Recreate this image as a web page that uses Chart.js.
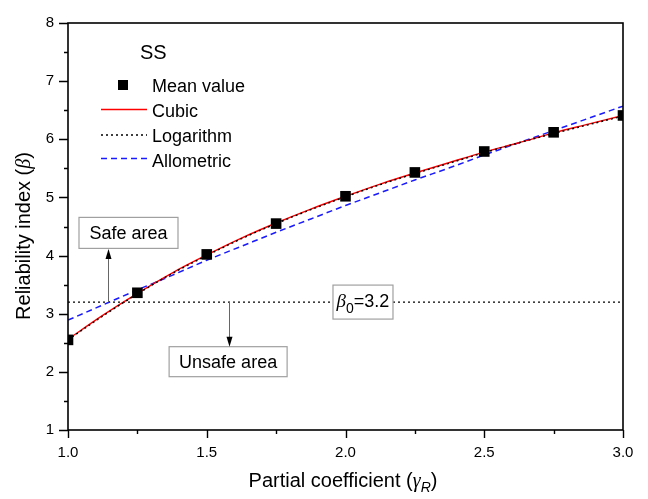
<!DOCTYPE html>
<html>
<head>
<meta charset="utf-8">
<script src="https://cdn.jsdelivr.net/npm/chart.js@4.4.0/dist/chart.umd.min.js"></script>
<style>
  html, body { margin: 0; padding: 0; background: #fff; }
  #wrap { width: 648px; height: 499px; }
</style>
</head>
<body>
<div id="wrap"><canvas id="chart" width="648" height="499"></canvas></div>
<script>
// data
const gammaR = [1.0, 1.25, 1.5, 1.75, 2.0, 2.25, 2.5, 2.75, 3.0];
const meanBeta = [2.55, 3.36, 4.02, 4.55, 5.02, 5.43, 5.79, 6.12, 6.41];

const fitX = [1.0, 1.125, 1.25, 1.375, 1.5, 1.625, 1.75, 1.875, 2.0, 2.125, 2.25, 2.375, 2.5, 2.625, 2.75, 2.875, 3.0];
const cubicBeta = [2.56, 2.97, 3.35, 3.70, 4.01, 4.30, 4.56, 4.80, 5.02, 5.23, 5.42, 5.60, 5.78, 5.94, 6.11, 6.26, 6.41];
const logBeta = [2.55, 2.96, 3.34, 3.69, 4.00, 4.29, 4.55, 4.79, 5.01, 5.22, 5.41, 5.59, 5.77, 5.94, 6.10, 6.25, 6.40];
const alloBeta = [2.89, 3.15, 3.41, 3.66, 3.92, 4.16, 4.40, 4.63, 4.86, 5.08, 5.30, 5.51, 5.73, 5.94, 6.15, 6.36, 6.57];

const targetX = [1.0, 3.0];
const targetBeta = [3.2, 3.2];

const xLabels = ["1.0", "1.5", "2.0", "2.5", "3.0"];
const yLabels = ["1", "2", "3", "4", "5", "6", "7", "8"];

const FONT = '"Liberation Sans", Arial, sans-serif';
const GREEK = '"Liberation Serif", "Times New Roman", serif';

function pts(xs, ys) {
    return xs.map(function (x, i) { return { x: x, y: ys[i] }; });
}

// text made of pieces: [text, font, dy]
function drawRuns(ctx, runs, x, y, align) {
    let total = 0;
    runs.forEach(function (r) { ctx.font = r[1]; total += ctx.measureText(r[0]).width; });
    let cx = align === "center" ? x - total / 2 : x;
    runs.forEach(function (r) {
        ctx.font = r[1];
        ctx.fillText(r[0], cx, y + (r[2] || 0));
        cx += ctx.measureText(r[0]).width;
    });
}

function box(ctx, cx, cy, w, h) {
    ctx.fillStyle = "#fff";
    ctx.fillRect(cx - w / 2, cy - h / 2, w, h);
    ctx.strokeStyle = "#a0a0a0";
    ctx.lineWidth = 1.2;
    ctx.strokeRect(cx - w / 2, cy - h / 2, w, h);
}

function arrow(ctx, x, y0, y1) {
    const dir = y1 > y0 ? 1 : -1;
    ctx.strokeStyle = "#666";
    ctx.lineWidth = 1;
    ctx.beginPath();
    ctx.moveTo(x, y0);
    ctx.lineTo(x, y1 - dir * 8);
    ctx.stroke();
    ctx.fillStyle = "#000";
    ctx.beginPath();
    ctx.moveTo(x, y1);
    ctx.lineTo(x - 3, y1 - dir * 10);
    ctx.lineTo(x + 3, y1 - dir * 10);
    ctx.closePath();
    ctx.fill();
}

const decor = {
    id: "decor",
    afterDraw: function (chart) {
        const ctx = chart.ctx;
        const a = chart.chartArea;
        const xs = chart.scales.x;
        const ys = chart.scales.y;
        ctx.save();

        // frame
        ctx.strokeStyle = "#000";
        ctx.lineWidth = 1.6;
        ctx.strokeRect(a.left, a.top, a.right - a.left, a.bottom - a.top);

        // ticks, major and minor
        ctx.lineWidth = 1.4;
        ctx.beginPath();
        for (let v = 1; v <= 3.0001; v += 0.25) {
            const px = Math.round(xs.getPixelForValue(v)) + 0.5;
            const major = Math.abs(v * 2 - Math.round(v * 2)) < 1e-6;
            ctx.moveTo(px, a.bottom);
            ctx.lineTo(px, a.bottom + (major ? 8 : 4));
        }
        for (let v = 1; v <= 8.0001; v += 0.5) {
            const py = Math.round(ys.getPixelForValue(v)) + 0.5;
            const major = Math.abs(v - Math.round(v)) < 1e-6;
            ctx.moveTo(a.left, py);
            ctx.lineTo(a.left - (major ? 9 : 4), py);
        }
        ctx.stroke();

        // axis titles
        ctx.fillStyle = "#000";
        ctx.textBaseline = "alphabetic";
        ctx.textAlign = "left";
        drawRuns(ctx, [
            ["Partial coefficient (", "20px " + FONT],
            ["\u03b3", "italic 20px " + GREEK],
            ["R", "italic 14px " + FONT, 5],
            [")", "20px " + FONT]
        ], 343, 487, "center");

        ctx.save();
        ctx.translate(30, 236);
        ctx.rotate(-Math.PI / 2);
        drawRuns(ctx, [
            ["Reliability index (", "20px " + FONT],
            ["\u03b2", "italic 20px " + GREEK],
            [")", "20px " + FONT]
        ], 0, 0, "center");
        ctx.restore();

        // legend
        ctx.font = "20px " + FONT;
        ctx.fillText("SS", 140, 59);
        ctx.font = "18px " + FONT;
        ctx.fillRect(118, 80, 10, 10);
        ctx.fillText("Mean value", 152, 91.5);
        ctx.fillText("Cubic", 152, 117);
        ctx.fillText("Logarithm", 152, 141.5);
        ctx.fillText("Allometric", 152, 166.5);
        ctx.lineWidth = 1.5;
        ctx.strokeStyle = "#ff0000";
        ctx.beginPath(); ctx.moveTo(101, 109.5); ctx.lineTo(147, 109.5); ctx.stroke();
        ctx.strokeStyle = "#000";
        ctx.setLineDash([2, 3]);
        ctx.beginPath(); ctx.moveTo(101, 135); ctx.lineTo(147, 135); ctx.stroke();
        ctx.strokeStyle = "#1a1aff";
        ctx.setLineDash([6, 4]);
        ctx.beginPath(); ctx.moveTo(101, 158.5); ctx.lineTo(147, 158.5); ctx.stroke();
        ctx.setLineDash([]);

        // annotations
        const yLine = ys.getPixelForValue(targetBeta[0]);
        box(ctx, xs.getPixelForValue(1.218), ys.getPixelForValue(4.39), 99, 31);
        box(ctx, xs.getPixelForValue(1.577), ys.getPixelForValue(2.175), 118, 30);
        box(ctx, xs.getPixelForValue(2.063), yLine, 60, 34);
        arrow(ctx, Math.round(xs.getPixelForValue(1.144)) + 0.5, yLine, ys.getPixelForValue(4.39) + 16);
        arrow(ctx, Math.round(xs.getPixelForValue(1.58)) + 0.5, yLine, ys.getPixelForValue(2.175) - 15);

        ctx.fillStyle = "#000";
        ctx.textAlign = "center";
        ctx.font = "18px " + FONT;
        ctx.fillText("Safe area", xs.getPixelForValue(1.218), ys.getPixelForValue(4.39) + 6.5);
        ctx.fillText("Unsafe area", xs.getPixelForValue(1.577), ys.getPixelForValue(2.175) + 6.5);
        ctx.textAlign = "left";
        drawRuns(ctx, [
            ["\u03b2", "italic 19px " + GREEK],
            ["0", "14px " + FONT, 6],
            ["=3.2", "18px " + FONT]
        ], xs.getPixelForValue(2.063), yLine + 5, "center");

        ctx.restore();
    }
};

const chart = new Chart(document.getElementById("chart"), {
    type: "line",
    data: {
        datasets: [
            {
                label: "Mean value",
                data: pts(gammaR, meanBeta),
                showLine: false,
                pointStyle: "rect",
                pointRadius: 7.5,
                pointBackgroundColor: "#000",
                pointBorderColor: "#000",
                pointBorderWidth: 0,
                order: 0
            },
            {
                label: "Logarithm",
                data: pts(fitX, logBeta),
                borderColor: "#000",
                borderWidth: 1.4,
                borderDash: [2, 3],
                pointRadius: 0,
                cubicInterpolationMode: "monotone",
                order: 1
            },
            {
                label: "Cubic",
                data: pts(fitX, cubicBeta),
                borderColor: "#ff0000",
                borderWidth: 1.4,
                pointRadius: 0,
                cubicInterpolationMode: "monotone",
                order: 2
            },
            {
                label: "Allometric",
                data: pts(fitX, alloBeta),
                borderColor: "#1a1aff",
                borderWidth: 1.5,
                borderDash: [6, 4],
                pointRadius: 0,
                cubicInterpolationMode: "monotone",
                order: 3
            },
            {
                label: "target",
                data: pts(targetX, targetBeta),
                borderColor: "#000",
                borderWidth: 1.4,
                borderDash: [2, 3],
                pointRadius: 0,
                order: 4
            }
        ]
    },
    options: {
        responsive: false,
        animation: false,
        events: [],
        layout: { padding: { top: 19, right: 25, left: 0, bottom: 0 } },
        plugins: { legend: { display: false }, tooltip: { enabled: false } },
        scales: {
            x: {
                type: "linear",
                min: 1,
                max: 3,
                grid: { display: false, drawTicks: false },
                border: { display: false },
                ticks: {
                    stepSize: 0.5,
                    padding: 14,
                    color: "#000",
                    font: { size: 15, family: FONT },
                    maxRotation: 0,
                    callback: function (v, i) { return xLabels[i]; }
                },
                afterFit: function (s) { s.height = 69; }
            },
            y: {
                type: "linear",
                min: 1,
                max: 8,
                grid: { display: false, drawTicks: false },
                border: { display: false },
                ticks: {
                    stepSize: 1,
                    padding: 14,
                    color: "#000",
                    font: { size: 15, family: FONT },
                    callback: function (v, i) { return yLabels[i]; }
                },
                afterFit: function (s) { s.width = 68; }
            }
        }
    },
    plugins: [decor]
});
</script>
</body>
</html>
